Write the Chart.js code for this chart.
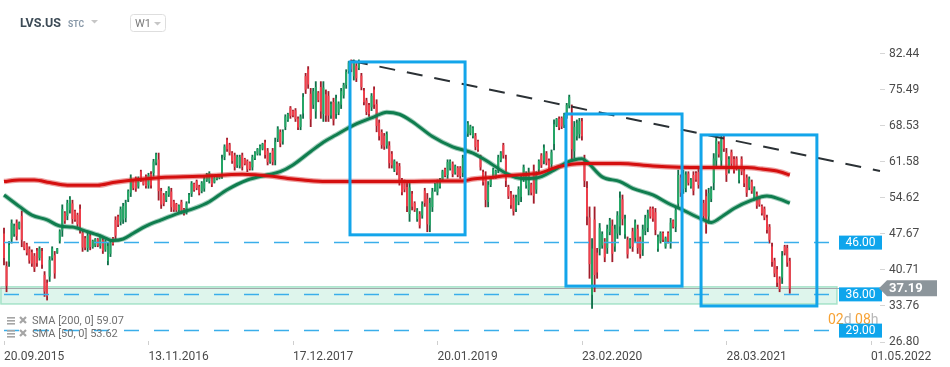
<!DOCTYPE html>
<html>
<head>
<meta charset="utf-8">
<script src="https://cdn.jsdelivr.net/npm/chart.js@4.4.0/dist/chart.umd.min.js"></script>
<style>
  html, body { margin: 0; padding: 0; background: #fff; }
  #wrap { width: 950px; height: 367px; }
</style>
</head>
<body>
<div id="wrap"><canvas id="chart" width="950" height="367"></canvas></div>
<script>
// weekly candles, index 0 = week of 20.09.2015
const tickDates = ['20.09.2015', '13.11.2016', '17.12.2017', '20.01.2019', '23.02.2020', '28.03.2021', '01.05.2022'];
const tickWeeks = [0, 57, 114, 171, 228, 285, 342];
const priceTicks = [26.80, 33.76, 40.71, 47.67, 54.62, 61.58, 68.53, 75.49, 82.44];

const open = [
  47.7,41.4,42.4,46.8,47.7,49.8,48.9,51.1,46.0,45.6,
  44.7,44.1,43.4,44.4,43.1,44.3,39.7,38.2,39.5,43.1,
  43.5,44.1,46.4,48.4,51.7,51.2,52.3,53.5,52.0,51.3,
  52.5,47.9,46.8,45.0,47.3,45.2,45.5,46.6,45.4,46.4,
  44.7,42.5,43.9,46.8,50.3,51.0,50.1,50.5,50.8,54.4,
  55.7,57.8,58.3,56.9,59.7,58.0,58.7,57.1,59.2,59.5,
  61.5,62.0,55.9,55.1,54.3,55.3,55.8,53.9,53.4,52.3,
  53.8,52.4,51.9,54.0,55.5,57.3,57.8,56.8,56.0,56.5,
  58.1,57.9,58.8,57.7,58.3,58.5,59.3,62.6,65.8,64.9,
  63.3,62.8,61.0,60.9,62.8,62.1,61.7,61.4,60.6,62.3,
  63.2,63.3,64.2,65.3,63.7,61.7,63.7,62.0,66.1,67.3,
  65.6,68.4,69.7,72.0,71.4,71.5,69.9,68.4,71.0,78.1,
  79.4,74.7,72.7,71.4,74.9,76.0,70.9,74.6,74.3,70.6,
  73.1,70.9,71.2,72.7,74.5,76.5,79.2,81.0,78.2,80.1,
  79.8,78.2,75.3,73.4,72.5,72.2,75.5,72.7,69.1,67.3,
  66.6,64.8,64.7,63.1,60.2,61.2,60.7,57.9,57.8,56.7,
  51.6,55.4,53.6,50.6,51.5,51.3,56.0,54.4,49.4,52.9,
  56.2,55.8,56.9,58.2,60.1,59.1,60.4,61.2,59.6,60.4,
  60.4,59.5,63.8,67.1,67.2,66.6,66.6,65.5,62.5,59.6,
  58.7,53.9,57.2,58.8,58.7,60.2,62.0,64.8,62.0,56.7,
  55.4,54.6,52.6,54.0,54.9,58.4,57.1,56.2,57.2,59.9,
  56.3,60.2,62.8,61.9,63.2,61.8,61.2,65.1,68.7,69.9,
  70.0,68.8,70.6,72.5,71.0,63.7,66.6,67.0,69.4,62.0,
  56.5,50.8,36.0,50.4,44.0,44.8,45.5,46.1,45.0,48.1,
  49.2,45.3,47.8,49.2,54.3,47.7,46.5,45.3,48.1,47.0,
  48.6,46.5,44.7,48.3,48.9,52.6,52.5,51.8,44.9,46.3,
  47.8,45.3,47.8,46.1,50.2,49.1,53.6,58.5,56.4,56.6,
  59.3,56.9,59.0,59.4,59.6,56.9,53.6,54.9,51.1,54.5,
  57.6,61.9,65.0,61.9,66.3,63.2,60.0,63.4,62.1,62.2,
  58.1,62.1,59.9,58.5,56.7,57.7,54.7,55.3,54.6,53.0,
  52.5,50.8,49.0,45.2,42.5,40.8,39.0,39.3,45.2,44.9,
  42.4
];
const high = [
  48.8,42.3,46.2,50.4,49.6,50.4,50.0,52.1,46.2,45.9,
  45.2,44.6,43.9,44.9,45.2,44.9,40.4,38.8,43.3,45.2,
  44.3,44.9,48.5,53.3,52.0,54.2,54.9,54.2,52.3,51.7,
  53.3,48.5,47.2,47.8,47.8,46.5,46.8,46.8,47.5,46.8,
  46.5,45.9,46.5,47.0,51.0,51.3,52.9,53.6,54.2,56.2,
  59.1,58.1,58.7,58.7,60.0,58.1,59.1,59.4,59.7,62.1,
  63.3,63.3,56.5,55.5,55.9,56.8,56.5,54.2,53.6,53.3,
  54.2,52.6,53.9,55.5,57.8,57.5,58.1,57.1,57.8,58.7,
  59.4,59.7,59.1,58.7,59.1,59.1,62.9,64.9,66.2,65.2,
  63.6,63.3,62.9,62.9,63.3,62.3,62.0,61.6,62.9,63.6,
  64.2,64.9,65.2,65.8,64.2,63.3,64.2,66.2,68.4,67.8,
  67.8,70.7,71.0,72.3,71.6,71.9,70.3,70.7,74.8,78.7,
  80.0,75.8,75.8,77.1,75.2,77.1,77.1,75.5,75.2,73.2,
  73.9,74.5,73.2,75.8,76.8,79.4,81.0,81.3,81.3,80.6,
  81.3,78.7,75.8,73.9,72.9,74.8,76.1,73.6,69.7,67.8,
  67.1,67.4,65.5,63.6,62.0,61.6,61.3,58.4,58.1,57.5,
  57.8,55.9,53.9,52.6,52.0,53.9,56.5,55.5,54.6,56.5,
  57.5,58.1,58.4,60.0,60.4,62.0,62.0,61.6,61.0,60.7,
  60.7,62.9,67.4,69.4,68.7,68.4,67.1,65.8,62.9,60.0,
  59.7,57.8,58.7,60.4,60.0,62.9,63.6,65.2,62.9,57.1,
  55.9,55.2,55.2,56.8,59.1,61.0,59.7,60.4,57.5,61.0,
  59.7,62.0,63.2,64.9,63.6,62.2,63.9,69.7,70.0,70.3,
  70.3,71.0,72.9,74.5,72.6,69.4,69.7,70.0,70.0,62.9,
  57.8,52.9,46.8,52.9,44.9,49.7,48.1,46.8,49.4,50.7,
  50.4,49.4,52.0,55.8,55.2,51.3,47.1,46.8,48.8,50.4,
  49.4,47.1,49.4,51.3,52.3,52.9,52.9,52.6,47.5,48.1,
  48.1,47.1,48.1,50.7,50.4,52.9,60.0,59.1,60.0,59.7,
  59.7,58.4,59.7,59.7,60.2,57.5,54.2,56.2,56.5,56.8,
  63.2,66.5,65.5,66.8,66.8,64.2,62.6,63.9,62.6,62.6,
  60.7,62.6,60.4,59.1,58.7,58.1,56.8,55.8,54.9,53.3,
  52.9,51.3,49.5,45.9,43.0,41.4,39.4,44.3,45.5,45.5,
  43.0
];
const low = [
  41.7,36.5,41.4,45.9,47.2,46.5,48.6,45.2,44.6,43.6,
  42.0,41.4,40.4,41.4,42.6,41.0,35.6,34.9,38.5,42.6,
  39.1,43.9,45.9,47.2,49.7,50.4,51.7,49.7,50.1,49.1,
  47.8,44.3,44.6,44.3,44.6,44.9,45.2,45.2,44.9,43.9,
  44.3,41.7,43.3,45.5,46.5,49.1,49.4,49.7,50.0,53.9,
  54.9,56.2,55.9,56.5,57.8,57.1,56.5,56.5,56.5,58.8,
  61.0,54.2,52.6,53.1,53.9,54.9,52.0,52.0,52.0,52.0,
  51.7,51.3,51.5,53.6,54.9,55.9,56.2,55.2,55.6,55.9,
  57.8,57.5,56.8,57.5,58.1,58.3,58.4,62.0,63.6,62.9,
  61.3,60.0,60.5,60.4,60.0,61.0,59.7,60.0,60.0,62.0,
  62.9,62.9,63.9,62.3,61.0,61.3,61.0,61.0,65.5,64.5,
  65.0,67.8,69.4,70.0,70.3,69.4,67.8,67.8,70.0,74.8,
  75.8,68.4,71.9,70.0,73.2,70.0,69.4,69.4,69.4,70.0,
  68.7,70.0,70.7,71.9,73.9,75.8,78.7,79.0,77.4,77.1,
  79.4,75.5,72.6,70.7,70.4,71.5,71.9,67.4,65.8,64.2,
  64.0,64.2,60.4,60.4,59.7,59.1,57.1,55.2,55.8,52.0,
  50.1,52.3,52.0,50.1,48.8,50.7,53.0,48.1,48.1,52.0,
  55.9,55.2,56.5,57.8,58.7,58.4,60.0,58.7,59.2,58.7,
  58.4,58.7,62.9,66.5,66.8,66.2,63.9,63.6,60.0,57.1,
  52.9,52.9,56.8,58.4,58.4,59.5,61.6,62.3,56.8,54.5,
  52.6,51.3,52.0,53.3,53.9,57.8,56.5,55.2,55.2,53.6,
  55.5,59.7,60.5,61.2,61.0,59.8,60.5,63.9,68.4,67.8,
  68.0,68.2,70.0,72.0,62.0,62.3,65.8,66.2,65.8,56.8,
  49.4,39.1,33.3,36.5,39.1,43.6,44.9,42.3,43.9,47.5,
  42.3,44.3,46.8,47.5,49.4,46.8,43.0,44.9,44.3,46.2,
  43.9,43.0,43.5,47.5,48.1,50.7,50.1,47.5,44.3,45.9,
  46.2,44.9,45.9,44.9,48.8,48.1,52.5,54.9,55.5,55.8,
  57.1,56.5,55.2,57.8,56.5,53.6,50.4,47.8,49.7,53.9,
  56.2,60.7,62.5,60.7,63.6,57.8,59.4,60.7,59.4,60.0,
  57.5,59.1,56.8,54.9,56.2,55.5,54.2,52.6,53.0,51.3,
  50.4,47.8,45.9,41.4,39.4,37.5,36.5,38.1,43.6,41.4,
  36.2
];
const close = [
  43.1,37.7,45.5,49.7,49.2,47.3,49.8,46.6,44.9,44.1,
  42.6,42.0,41.1,42.1,44.8,41.8,36.6,35.7,42.6,44.8,
  40.1,44.8,48.1,52.4,50.2,53.6,54.4,50.6,50.5,49.6,
  48.9,45.1,45.1,47.3,45.2,46.3,46.6,45.5,47.1,44.5,
  46.2,45.3,46.0,45.8,47.4,49.5,52.4,53.0,53.6,55.9,
  58.5,56.6,56.5,58.4,58.2,57.3,57.0,59.0,57.1,61.6,
  63.0,56.0,53.4,53.6,55.6,56.5,52.9,52.4,52.3,53.1,
  52.2,51.6,53.5,55.2,57.4,56.2,56.6,55.6,57.5,58.3,
  59.2,59.4,57.3,58.5,58.9,59.0,62.2,64.5,64.1,63.4,
  61.8,60.7,62.5,62.5,60.7,61.3,60.2,60.3,62.5,63.4,
  64.0,64.6,65.0,63.0,61.6,63.0,61.6,65.4,68.0,65.2,
  67.4,70.3,70.8,70.5,70.6,69.9,68.3,70.3,74.1,75.6,
  76.6,69.9,75.2,76.0,73.6,71.4,75.9,70.6,70.6,72.7,
  69.7,73.8,72.8,75.2,76.4,78.9,80.7,79.5,80.7,77.8,
  81.0,76.1,73.2,71.3,70.9,74.3,72.7,68.6,66.6,64.9,
  64.6,66.9,61.4,61.0,61.7,59.6,57.9,55.8,56.3,53.1,
  56.6,53.0,52.4,52.2,49.4,53.4,53.7,49.6,53.6,55.8,
  57.3,57.7,58.1,59.7,59.0,61.5,61.7,59.3,60.7,59.1,
  58.9,62.3,66.7,69.0,68.4,68.1,64.5,64.0,60.6,57.7,
  54.3,57.1,58.4,60.1,59.8,62.4,63.3,62.9,58.0,55.0,
  53.3,52.1,54.7,56.3,58.3,60.5,59.2,59.6,55.7,55.1,
  59.1,61.7,61.0,64.3,61.5,60.3,63.4,68.8,69.8,68.3,
  68.5,70.6,72.5,74.1,64.1,68.3,69.1,69.4,66.6,58.0,
  51.1,41.9,44.8,39.8,40.3,48.8,47.6,43.2,48.6,50.2,
  43.9,48.6,51.2,54.6,50.6,50.6,43.8,46.5,45.2,49.8,
  45.0,43.8,48.5,50.7,51.7,51.1,50.7,48.5,47.0,47.8,
  46.6,46.8,46.3,49.8,49.1,52.2,59.0,55.7,59.3,59.1,
  57.6,58.1,56.1,58.2,57.2,54.4,51.2,49.5,55.5,56.4,
  62.2,65.6,63.1,65.9,64.2,59.1,62.1,61.3,60.0,60.5,
  60.2,59.8,57.5,55.7,58.3,56.0,56.4,53.2,53.4,51.7,
  50.9,48.5,46.6,42.3,40.1,38.3,37.1,43.4,44.0,42.2,
  37.19
];

// moving averages read at selected weeks
const sma200Weeks = [0,6,12,18,25,37,43,51,62,77,94,106,112,118,127,159,172,181,185,192,198,207,211,219,228,243,256,275,293,299,306,310];
const sma200 = [57.8,58.1,58.1,57.6,57.1,57.1,57.6,58.1,58.6,58.8,59.2,58.8,58.4,58.1,57.8,57.8,57.9,57.9,58.3,58.6,58.9,59.2,59.4,60.7,61.3,61.3,60.8,60.5,60.5,60.2,59.7,59.07];
const sma50Weeks = [0,6,11,17,22,27,33,38,43,47,51,56,62,69,75,81,88,96,104,109,114,121,126,131,138,146,151,156,161,169,177,185,192,198,204,210,217,222,228,230,236,243,248,256,262,267,275,279,284,288,295,301,306,310];
const sma50 = [55.2,53.0,51.3,50.4,49.2,49.0,48.1,47.3,46.4,46.7,47.8,49.2,50.4,51.7,52.6,53.9,56.2,58.1,59.1,59.7,61.0,63.6,65.4,66.8,68.7,70.3,71.2,70.8,69.4,66.5,64.5,63.3,61.3,59.4,58.4,58.5,60.0,61.5,62.2,61.6,58.7,57.8,56.5,55.2,53.6,52.5,50.6,49.9,51.3,52.6,54.2,55.0,54.4,53.62];

// drawn annotations (weeks / prices)
const levelPrices = [46, 36, 29];
const lastPrice = 37.19;
const zoneRange = [34.15, 37.45];
const zoneEndWeek = 328.6;
const boxWeeks = [[136.5, 181.9], [221.7, 267.5], [275.0, 320.7]];
const boxPrices = [[47.5, 80.9], [37.6, 70.85], [33.76, 66.8]];
const trendWeeks = [137.3, 345.6];
const trendPrices = [81.1, 59.85];

Chart.defaults.font.family = 'Roboto, "Noto Sans", sans-serif';

const up = close.map((c, i) => c >= open[i]);
const bodyColors = up.map(u => u ? '#24a866' : '#f2404c');
const wickColors = up.map(u => u ? '#10704a' : '#a31d2b');

const overlay = {
  id: 'overlay',
  beforeDatasetsDraw(chart) {
    const { ctx, chartArea: a, scales: { x, y } } = chart;
    ctx.save();
    const zTop = y.getPixelForValue(zoneRange[1]);
    const zBot = y.getPixelForValue(zoneRange[0]);
    const zRight = x.getPixelForValue(zoneEndWeek);
    ctx.fillStyle = 'rgba(160, 225, 200, 0.35)';
    ctx.fillRect(a.left, zTop, zRight - a.left, zBot - zTop);
    ctx.strokeStyle = '#a6e3c9';
    ctx.lineWidth = 1.5;
    ctx.strokeRect(a.left + 1, zTop, zRight - a.left - 1, zBot - zTop);

    const py = Math.round(y.getPixelForValue(lastPrice)) + 0.5;
    ctx.strokeStyle = '#a3a8ab';
    ctx.lineWidth = 1;
    ctx.beginPath();
    ctx.moveTo(a.left, py);
    ctx.lineTo(a.right, py);
    ctx.stroke();
    ctx.restore();
  },
  afterDatasetsDraw(chart) {
    const { ctx, chartArea: a, scales: { x, y } } = chart;
    ctx.save();
    ctx.strokeStyle = '#3aaeea';
    ctx.lineWidth = 1.5;
    ctx.setLineDash([15, 15]);
    ctx.lineDashOffset = -4;
    levelPrices.forEach(p => {
      const ly = y.getPixelForValue(p);
      ctx.beginPath();
      ctx.moveTo(a.left, ly);
      ctx.lineTo(a.right - 41, ly);
      ctx.stroke();
    });

    ctx.strokeStyle = '#2b3135';
    ctx.lineWidth = 2;
    ctx.setLineDash([16, 12]);
    ctx.lineDashOffset = 0;
    ctx.beginPath();
    ctx.moveTo(x.getPixelForValue(trendWeeks[0]), y.getPixelForValue(trendPrices[0]));
    ctx.lineTo(x.getPixelForValue(trendWeeks[1]), y.getPixelForValue(trendPrices[1]));
    ctx.stroke();

    ctx.setLineDash([]);
    ctx.strokeStyle = '#13a5ea';
    ctx.lineWidth = 3;
    boxWeeks.forEach((w, k) => {
      const x1 = x.getPixelForValue(w[0]), x2 = x.getPixelForValue(w[1]);
      const y1 = y.getPixelForValue(boxPrices[k][1]), y2 = y.getPixelForValue(boxPrices[k][0]);
      ctx.strokeRect(x1, y1, x2 - x1, y2 - y1);
    });
    ctx.restore();
  },
  afterDraw(chart) {
    const { ctx, chartArea: a, scales: { x, y } } = chart;
    ctx.save();

    // small tick marks on the date axis
    ctx.strokeStyle = '#cfcfcf';
    ctx.lineWidth = 1;
    tickWeeks.forEach(w => {
      const tx = Math.round(x.getPixelForValue(w)) + 0.5;
      ctx.beginPath();
      ctx.moveTo(tx, a.bottom - 1);
      ctx.lineTo(tx, a.bottom + 3);
      ctx.stroke();
    });

    // countdown
    ctx.font = '14px Roboto';
    ctx.textBaseline = 'middle';
    ctx.textAlign = 'left';
    let cx = a.right - 52;
    const cy = y.getPixelForValue(29) - 10;
    [['02', '#f7a234'], ['d', '#b8b8b8'], [' 08', '#f7a234'], ['h', '#b8b8b8']].forEach(([t, c]) => {
      ctx.fillStyle = c;
      ctx.fillText(t, cx, cy);
      cx += ctx.measureText(t).width;
    });

    // level labels
    ctx.font = '12px Roboto';
    ctx.textAlign = 'center';
    levelPrices.forEach(p => {
      const ly = y.getPixelForValue(p);
      ctx.fillStyle = '#0ea5ec';
      ctx.fillRect(a.right - 41, ly - 7, 43, 14);
      ctx.fillStyle = '#fff';
      ctx.fillText(p.toFixed(2), a.right - 19.5, ly + 0.5);
    });

    // last price tag
    const py = y.getPixelForValue(lastPrice);
    ctx.fillStyle = '#8c959b';
    ctx.beginPath();
    ctx.moveTo(a.right - 1, py);
    ctx.lineTo(a.right + 7, py - 8);
    ctx.lineTo(a.right + 57, py - 8);
    ctx.lineTo(a.right + 57, py + 8);
    ctx.lineTo(a.right + 7, py + 8);
    ctx.closePath();
    ctx.fill();
    ctx.fillStyle = '#fff';
    ctx.font = 'bold 13px Roboto';
    ctx.textAlign = 'left';
    ctx.fillText(lastPrice.toFixed(2), a.right + 9, py + 0.5);

    // indicator legend
    const rows = [['SMA [200, 0] ', sma200[sma200.length - 1]], ['SMA [50, 0] ', sma50[sma50.length - 1]]];
    rows.forEach(([name, v], k) => {
      const ry = a.bottom - 21 + k * 13;
      ctx.fillStyle = '#a5a5a5';
      ctx.fillRect(7, ry - 4, 8, 1.6);
      ctx.fillRect(7, ry - 1, 8, 1.6);
      ctx.fillRect(7, ry + 2, 8, 1.6);
      ctx.strokeStyle = '#a5a5a5';
      ctx.lineWidth = 2.2;
      ctx.beginPath();
      ctx.moveTo(20, ry - 4); ctx.lineTo(26, ry + 2);
      ctx.moveTo(26, ry - 4); ctx.lineTo(20, ry + 2);
      ctx.stroke();
      ctx.font = '11px Roboto';
      ctx.fillStyle = '#707070';
      ctx.fillText(name + v.toFixed(2), 32, ry);
    });

    // header
    ctx.textBaseline = 'alphabetic';
    ctx.font = 'bold 12.5px Roboto';
    ctx.fillStyle = '#3d4b56';
    ctx.fillText('LVS.US', 20, 27);
    ctx.font = 'bold 8.5px Roboto';
    ctx.fillStyle = '#8898a8';
    ctx.fillText('STC', 68, 27);
    ctx.fillStyle = '#c6c6c6';
    ctx.beginPath();
    ctx.moveTo(91, 20); ctx.lineTo(98, 20); ctx.lineTo(94.5, 23.5); ctx.closePath();
    ctx.fill();
    ctx.strokeStyle = '#dedede';
    ctx.lineWidth = 1;
    ctx.beginPath();
    ctx.roundRect(130.5, 14.5, 35, 17, 3);
    ctx.stroke();
    ctx.font = '11px Roboto';
    ctx.fillStyle = '#7a7a7a';
    ctx.fillText('W1', 135, 27);
    ctx.fillStyle = '#c6c6c6';
    ctx.beginPath();
    ctx.moveTo(154, 22); ctx.lineTo(161, 22); ctx.lineTo(157.5, 25.5); ctx.closePath();
    ctx.fill();
    ctx.restore();
  }
};

new Chart(document.getElementById('chart').getContext('2d'), {
  type: 'bar',
  data: {
    datasets: [
      {
        type: 'bar',
        label: 'wick',
        data: high.map((h, i) => ({ x: i, y: [low[i], h] })),
        backgroundColor: wickColors,
        barThickness: 1.2,
        grouped: false,
        order: 4
      },
      {
        type: 'bar',
        label: 'body',
        data: open.map((o, i) => ({ x: i, y: [o, close[i]] })),
        backgroundColor: bodyColors,
        barThickness: 1.2,
        grouped: false,
        order: 3
      },
      {
        type: 'line',
        label: 'SMA 200 halo',
        data: sma200Weeks.map((w, k) => ({ x: w, y: sma200[k] })),
        borderColor: 'rgba(215, 40, 40, 0.45)',
        borderWidth: 5.5,
        pointRadius: 0,
        cubicInterpolationMode: 'monotone',
        order: 2
      },
      {
        type: 'line',
        label: 'SMA 50 halo',
        data: sma50Weeks.map((w, k) => ({ x: w, y: sma50[k] })),
        borderColor: 'rgba(20, 130, 85, 0.4)',
        borderWidth: 5,
        pointRadius: 0,
        cubicInterpolationMode: 'monotone',
        order: 2
      },
      {
        type: 'line',
        label: 'SMA 200',
        data: sma200Weeks.map((w, k) => ({ x: w, y: sma200[k] })),
        borderColor: '#d50f0f',
        borderWidth: 3,
        pointRadius: 0,
        cubicInterpolationMode: 'monotone',
        order: 1
      },
      {
        type: 'line',
        label: 'SMA 50',
        data: sma50Weeks.map((w, k) => ({ x: w, y: sma50[k] })),
        borderColor: '#0f7d4e',
        borderWidth: 3,
        pointRadius: 0,
        cubicInterpolationMode: 'monotone',
        order: 1
      }
    ]
  },
  options: {
    responsive: false,
    animation: false,
    events: [],
    layout: { padding: { top: 40, left: 0, right: 0, bottom: 0 } },
    plugins: {
      legend: { display: false },
      tooltip: { enabled: false }
    },
    scales: {
      x: {
        type: 'linear',
        min: -1.58,
        max: 345.6,
        offset: false,
        grid: { display: false },
        border: { display: false },
        afterBuildTicks: scale => { scale.ticks = tickWeeks.map(v => ({ value: v })); },
        afterFit: scale => { scale.height = 25; },
        ticks: {
          align: 'start',
          autoSkip: false,
          maxRotation: 0,
          padding: 0,
          color: '#4a4a4a',
          font: { size: 12 },
          callback: v => tickDates[tickWeeks.indexOf(v)]
        }
      },
      y: {
        position: 'right',
        min: 26.80,
        max: 85.14,
        grid: { drawOnChartArea: false, drawTicks: true, tickLength: 5, color: '#d6d6d6' },
        border: { display: false },
        afterBuildTicks: scale => { scale.ticks = priceTicks.map(v => ({ value: v })); },
        afterFit: scale => { scale.width = 70; },
        ticks: {
          padding: 4,
          color: '#4a4a4a',
          font: { size: 12 },
          callback: v => v.toFixed(2)
        }
      }
    }
  },
  plugins: [overlay]
});
</script>
</body>
</html>
